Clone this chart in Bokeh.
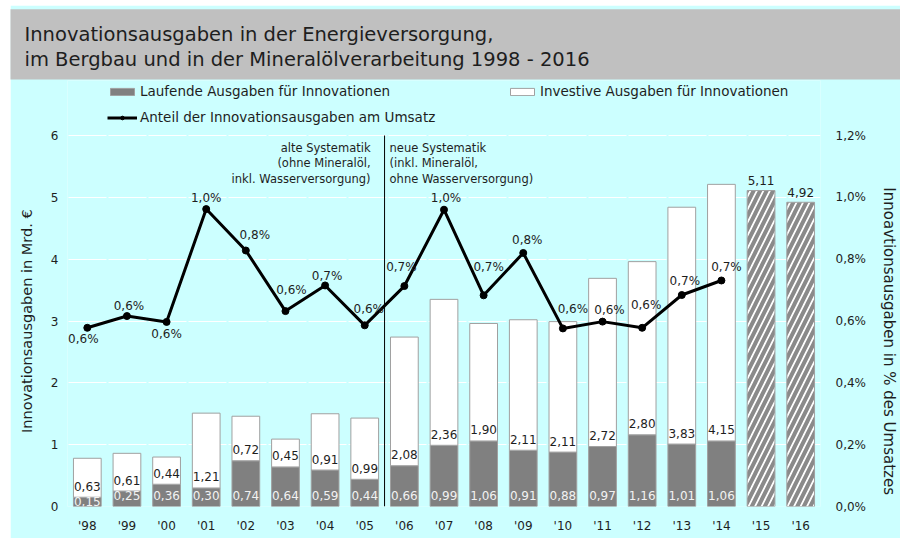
from bokeh.plotting import figure
from bokeh.models import (Range1d, FactorRange, LinearAxis, FixedTicker, Legend,
                          LegendItem, ColumnDataSource)
from bokeh.embed import file_html
from bokeh.resources import INLINE
from bokeh.core.properties import value

# ---------------- data ----------------
years = ["'98", "'99", "'00", "'01", "'02", "'03", "'04", "'05", "'06", "'07",
         "'08", "'09", "'10", "'11", "'12", "'13", "'14", "'15", "'16"]
actual_years = years[:17]
forecast_years = ["'15", "'16"]
laufende = [0.15, 0.25, 0.36, 0.30, 0.74, 0.64, 0.59, 0.44, 0.66, 0.99, 1.06,
            0.91, 0.88, 0.97, 1.16, 1.01, 1.06]
investive = [0.63, 0.61, 0.44, 1.21, 0.72, 0.45, 0.91, 0.99, 2.08, 2.36, 1.90,
             2.11, 2.11, 2.72, 2.80, 3.83, 4.15]
forecast_total = [5.11, 4.92]
anteil = [0.578, 0.616, 0.597, 0.962, 0.828, 0.632, 0.715, 0.586, 0.713, 0.960,
          0.683, 0.820, 0.576, 0.598, 0.578, 0.684, 0.731]
left_ticks = [0, 1, 2, 3, 4, 5, 6]
right_ticks = [0.0, 0.2, 0.4, 0.6, 0.8, 1.0, 1.2]
right_tick_labels = ["0,0%", "0,2%", "0,4%", "0,6%", "0,8%", "1,0%", "1,2%"]
title_lines = ["Innovationsausgaben in der Energieversorgung,",
               "im Bergbau und in der Mineralölverarbeitung 1998 - 2016"]
legend_labels = ["Laufende Ausgaben für Innovationen",
                 "Investive Ausgaben für Innovationen",
                 "Anteil der Innovationsausgaben am Umsatz"]
y_label_left = "Innovationsausgaben in Mrd. €"
y_label_right = "Innoavtionsausgaben in % des Umsatzes"
note_old = ["alte Systematik", "(ohne Mineralöl,", "inkl. Wasserversorgung)"]
note_new = ["neue Systematik", "(inkl. Mineralöl,", "ohne Wasserversorgung)"]
break_year = "'06"

# ---------------- style / layout ----------------
FONT = "DejaVu Sans"
CYAN = "#ccffff"
GRAY_BAND = "#c0c0c0"
BAR_GRAY = "#808080"
OUTLINE = "#a0a0a0"
TXT = "#1e1e1e"
W, H = 890, 533
BL, BR, BT, BB = 57, 74, 75, 32       # borders; frame = page y 80..506
AXIS_TOP_PX, AXIS_BOTTOM_PX, FRAME_TOP_PX = 135, 506, 80
Y_MAX = left_ticks[-1] * (AXIS_BOTTOM_PX - FRAME_TOP_PX) / (AXIS_BOTTOM_PX - AXIS_TOP_PX)
NB = "\u00a0"
pct_dx = [-4, 2, 0, 0, 9, 6, 2, 4, -3, 2, 5, 4, 10, 7, 4, 3, 5]
pct_dy = [11, -10, 12, -11, -16, -21, -9, -16, -19, -12, -28, -13, -19, -12, -23, -14, -13]


def de(v, d=2):
    return f"{v:.{d}f}".replace(".", ",")


p = figure(width=W, height=H, x_range=FactorRange(factors=years, range_padding=0),
           y_range=Range1d(0, Y_MAX), toolbar_location=None, output_backend="svg",
           min_border_left=BL, min_border_right=BR, min_border_top=BT,
           min_border_bottom=BB, background_fill_color=CYAN,
           border_fill_color=CYAN, outline_line_color=None,
           margin=(5, 0, 0, 10))
p.extra_y_ranges = {"pct": Range1d(0, Y_MAX * right_ticks[-1] / left_ticks[-1])}

# title band: title annotation with a padded gray background
p.title.text = "\n".join(title_lines)
p.title.text_font = FONT
p.title.text_font_size = "19.5px"
p.title.text_font_style = "normal"
p.title.text_color = TXT
p.title.text_line_height = 1.1
p.title.align = "left"
p.title.offset = -BL
p.title.standoff = 2
p.title.background_fill_color = GRAY_BAND
p.title.padding = (14, 330, 14, 8)      # left, right, top, bottom

p.xgrid.visible = False
p.ygrid.ticker = FixedTicker(ticks=left_ticks)
p.ygrid.grid_line_color = "white"
p.ygrid.grid_line_width = 1
p.ygrid.grid_line_dash = "38 2"
p.ygrid.grid_line_dash_offset = -1

ax_style = dict(axis_line_color=None, major_tick_line_color=None,
                minor_tick_line_color=None, major_tick_out=0, major_tick_in=0,
                minor_tick_out=0, minor_tick_in=0, major_label_text_font=FONT,
                major_label_text_font_size="12px", major_label_text_color=TXT)
for ax in (p.xaxis[0], p.yaxis[0]):
    for k, v in ax_style.items():
        setattr(ax, k, v)

p.xaxis.major_label_standoff = 12
p.yaxis.ticker = FixedTicker(ticks=left_ticks)
p.yaxis.bounds = (left_ticks[0], left_ticks[-1])
p.yaxis.major_label_standoff = 9
# trailing no-break spaces keep the visible label centred on the 0..6 part
p.yaxis.axis_label = y_label_left + NB * 12
p.yaxis.axis_label_text_font = FONT
p.yaxis.axis_label_text_font_size = "14.5px"
p.yaxis.axis_label_text_font_style = "normal"
p.yaxis.axis_label_text_color = TXT
p.yaxis.axis_label_standoff = 13

ra = LinearAxis(y_range_name="pct", ticker=FixedTicker(ticks=right_ticks),
                bounds=(right_ticks[0], right_ticks[-1]),
                major_label_overrides={k: v for k, v in zip(right_ticks, right_tick_labels)},
                major_label_standoff=15, axis_label=NB * 20 + y_label_right,
                axis_label_text_font=FONT, axis_label_text_font_size="15px",
                axis_label_text_font_style="normal", axis_label_text_color=TXT,
                axis_label_standoff=11, **ax_style)
p.add_layout(ra, "right")

src = ColumnDataSource(dict(
    x=actual_years, lauf=laufende, inv=investive,
    total=[a + b for a, b in zip(laufende, investive)],
    lauf_txt=[de(v) for v in laufende], inv_txt=[de(v) for v in investive],
    lauf_y=[v / 2 if v < 0.2 else 0 for v in laufende],
    lauf_off=[0 if v < 0.2 else -11 for v in laufende],
    pct=anteil, pct_txt=[de(v, 1) + "%" for v in anteil],
    pdx=pct_dx, pdy=pct_dy,
))

r_lauf = p.vbar(x="x", top="lauf", bottom=0, width=0.7, source=src,
                fill_color=BAR_GRAY, line_color=OUTLINE, line_width=1)
r_inv = p.vbar(x="x", bottom="lauf", top="total", width=0.7, source=src,
               fill_color="white", line_color=OUTLINE, line_width=1)
p.vbar(x=forecast_years, top=forecast_total, bottom=0, width=0.7,
       fill_color="white", line_color=OUTLINE, line_width=1,
       hatch_pattern="/", hatch_color="#8a8a8a", hatch_weight=4, hatch_scale=13)

p.text(x="x", y="lauf_y", text="lauf_txt", y_offset="lauf_off", source=src,
       text_font=value(FONT), text_font_size="12px", text_color="#f2f2f2",
       text_align="center", text_baseline="middle")
p.text(x="x", y="lauf", text="inv_txt", y_offset=-11, source=src,
       text_font=value(FONT), text_font_size="12px", text_color=TXT,
       text_align="center", text_baseline="middle")
p.text(x=forecast_years, y=forecast_total, text=[de(v) for v in forecast_total],
       y_offset=-10, text_font=value(FONT), text_font_size="12px",
       text_color=TXT, text_align="center", text_baseline="middle")

bx = years.index(break_year)
p.segment(x0=[bx], y0=[left_ticks[0]], x1=[bx], y1=[left_ticks[-1]],
          line_color="black", line_width=1)

p.text(x=[bx] * 3, y=[left_ticks[-1]] * 3, text=note_old, x_offset=-14,
       y_offset=[12, 27.5, 43], text_font=value(FONT), text_font_size="11.5px",
       text_color=TXT, text_align="right", text_baseline="middle")
p.text(x=[bx] * 3, y=[left_ticks[-1]] * 3, text=note_new, x_offset=5,
       y_offset=[12, 27.5, 43], text_font=value(FONT), text_font_size="11.5px",
       text_color=TXT, text_align="left", text_baseline="middle")

r_line = p.line(x="x", y="pct", source=src, y_range_name="pct",
                line_color="black", line_width=3)
r_pts = p.scatter(x="x", y="pct", source=src, y_range_name="pct", size=7,
                  fill_color="black", line_color="black")
p.text(x="x", y="pct", text="pct_txt", x_offset="pdx", y_offset="pdy",
       source=src, y_range_name="pct", text_font=value(FONT),
       text_font_size="12px", text_color=TXT, text_align="center",
       text_baseline="middle")

leg_style = dict(orientation="vertical", padding=0, spacing=6, glyph_width=30,
                 glyph_height=9, label_height=20, label_standoff=3,
                 background_fill_alpha=0, border_line_color=None,
                 label_text_font=FONT, label_text_font_size="13.5px",
                 label_text_color=TXT, margin=0)
leg1 = Legend(items=[LegendItem(label=legend_labels[0], renderers=[r_lauf]),
                     LegendItem(label=legend_labels[2], renderers=[r_line, r_pts])],
              location=(40, 379), **leg_style)
leg2 = Legend(items=[LegendItem(label=legend_labels[1], renderers=[r_inv])],
              location=(440, 405), **leg_style)
p.add_layout(leg1)
p.add_layout(leg2)

open("out.html", "w").write(file_html(p, INLINE))
